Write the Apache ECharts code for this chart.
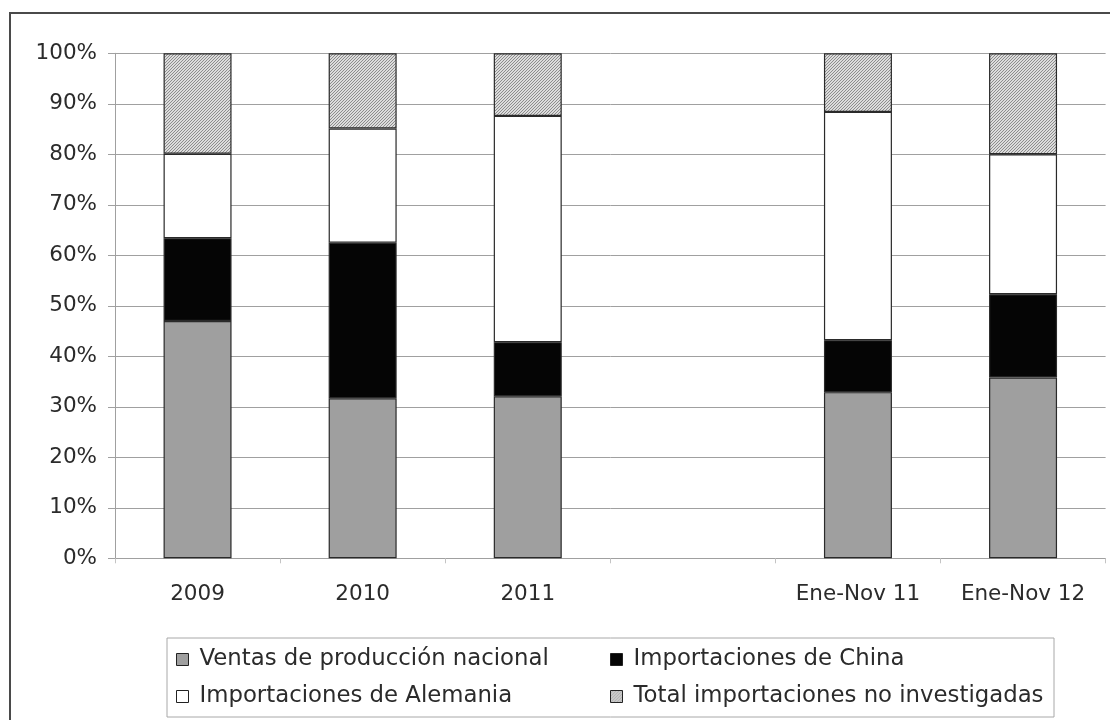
<!DOCTYPE html>
<html>
<head>
<meta charset="utf-8">
<title>Participación en el mercado</title>
<script src="https://cdn.jsdelivr.net/npm/echarts@6/dist/echarts.min.js"></script>
<style>
  html, body { margin: 0; padding: 0; background: #ffffff; }
  #chart { width: 1110px; height: 720px; }
</style>
</head>
<body>
<div id="chart"></div>
<script>
// Periods (the blank entry leaves a gap between annual and partial-year columns)
const categories = ['2009', '2010', '2011', '', 'Ene-Nov 11', 'Ene-Nov 12'];

// Share of each source, in percent of the total market
const ventasNacional   = [47.0, 31.7, 32.1, '-', 32.9, 35.8];
const importChina      = [16.4, 30.8, 10.7, '-', 10.3, 16.5];
const importAlemania   = [16.7, 22.6, 44.8, '-', 45.2, 27.7];
const importNoInvest   = [19.9, 14.9, 12.4, '-', 11.6, 20.0];

const seriesNames = [
  'Ventas de producción nacional',
  'Importaciones de China',
  'Importaciones de Alemania',
  'Total importaciones no investigadas'
];

const yTicks = [0, 10, 20, 30, 40, 50, 60, 70, 80, 90, 100];

// Fine diagonal hatch used for the non-investigated imports
function hatchPattern() {
  const n = 3;
  const c = document.createElement('canvas');
  c.width = n; c.height = n;
  const g = c.getContext('2d');
  g.fillStyle = '#dcdcdc';
  g.fillRect(0, 0, n, n);
  g.strokeStyle = '#8c8c8c';
  g.lineWidth = 1;
  g.beginPath();
  g.moveTo(-1, 1); g.lineTo(1, -1);
  g.moveTo(0, n); g.lineTo(n, 0);
  g.moveTo(n - 1, n + 1); g.lineTo(n + 1, n - 1);
  g.stroke();
  return { image: c, repeat: 'repeat' };
}

const FONT = 'DejaVu Sans';
const TXT = '#2b2b2b';
const GRIDC = '#a0a0a0';

const fills = ['#9f9f9f', '#050505', '#ffffff', hatchPattern()];
const values = [ventasNacional, importChina, importAlemania, importNoInvest];

const chart = echarts.init(document.getElementById('chart'), null, { renderer: 'canvas' });

const legendPos = [
  { left: 176, top: 648 },
  { left: 610, top: 648 },
  { left: 176, top: 685 },
  { left: 610, top: 685 }
];

chart.setOption({
  animation: false,
  backgroundColor: '#ffffff',
  graphic: [
    {
      type: 'rect',
      shape: { x: 10, y: 13, width: 1120, height: 730 },
      style: { fill: 'none', stroke: '#4a4a4a', lineWidth: 2 },
      silent: true
    },
    {
      type: 'rect',
      shape: { x: 167, y: 638, width: 887, height: 79 },
      style: { fill: 'none', stroke: '#a8a8a8', lineWidth: 1 },
      silent: true
    }
  ],
  legend: seriesNames.map((name, i) => ({
    data: [name],
    left: legendPos[i].left,
    top: legendPos[i].top,
    padding: 0,
    itemWidth: 12,
    itemHeight: 12,
    icon: 'rect',
    selectedMode: false,
    itemStyle: { borderColor: '#222', borderWidth: 1 },
    textStyle: { fontFamily: FONT, fontSize: 22.8, color: TXT, padding: [0, 0, 0, 6] }
  })),
  grid: { left: 115, right: 4.4, top: 53.3, bottom: 161.7 },
  xAxis: {
    type: 'category',
    data: categories,
    axisLine: { lineStyle: { color: GRIDC, width: 1 } },
    axisTick: { show: true, length: 5, interval: 0, lineStyle: { color: '#c4c4c4' } },
    axisLabel: { interval: 0, margin: 25, fontFamily: FONT, fontSize: 21.5, color: TXT }
  },
  yAxis: {
    type: 'value',
    min: yTicks[0],
    max: yTicks[yTicks.length - 1],
    interval: yTicks[1] - yTicks[0],
    axisLine: { show: true, lineStyle: { color: GRIDC, width: 1 } },
    axisTick: { show: true, length: 7, lineStyle: { color: GRIDC } },
    splitLine: { lineStyle: { color: GRIDC, width: 1 } },
    axisLabel: {
      margin: 18,
      fontFamily: FONT,
      fontSize: 21.5,
      color: TXT,
      formatter: v => v + '%'
    }
  },
  series: seriesNames.map((name, i) => ({
    name: name,
    type: 'bar',
    stack: 'total',
    barWidth: 68,
    data: values[i],
    itemStyle: { color: fills[i], borderColor: '#2a2a2a', borderWidth: 1.2 },
    emphasis: { disabled: true }
  }))
});
</script>
</body>
</html>
